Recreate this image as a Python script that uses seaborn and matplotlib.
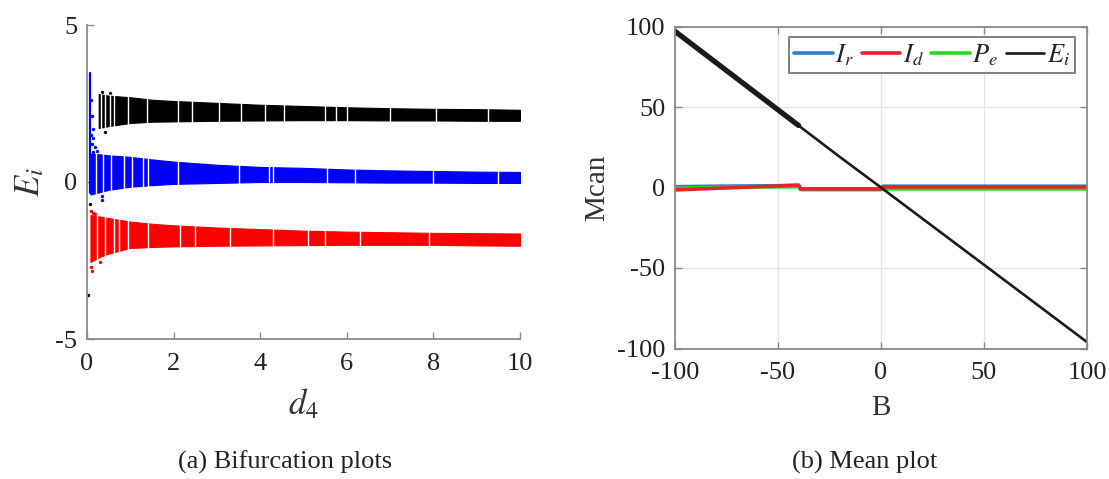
import numpy as np
import pandas as pd
import matplotlib
matplotlib.use("Agg")
import matplotlib.pyplot as plt
import seaborn as sns

# ---------------- (a) bifurcation bands: E_i envelopes over d4 ----------------
black_d4 = [0.27, 0.5, 1.0, 1.5, 2, 3, 4, 5, 6, 7, 8, 9, 10]
black_top = [2.80, 2.75, 2.70, 2.62, 2.58, 2.52, 2.46, 2.42, 2.38, 2.35, 2.33, 2.32, 2.30]
black_bot = [1.72, 1.78, 1.88, 1.92, 1.93, 1.95, 1.96, 1.97, 1.97, 1.96, 1.96, 1.95, 1.95]

blue_d4 = [0.08, 0.3, 0.5, 1.0, 1.5, 2, 3, 4, 5, 6, 7, 8, 9, 10]
blue_top = [0.90, 0.88, 0.85, 0.80, 0.72, 0.65, 0.55, 0.48, 0.45, 0.40, 0.37, 0.35, 0.33, 0.32]
blue_bot = [-0.40, -0.32, -0.25, -0.15, -0.10, -0.06, -0.03, 0.00, 0.00, -0.01, -0.02, -0.02, -0.03, -0.03]

red_d4 = [0.08, 0.3, 0.5, 1.0, 1.5, 2, 3, 4, 5, 6, 7, 8, 9, 10]
red_top = [-1.05, -1.10, -1.15, -1.26, -1.33, -1.38, -1.45, -1.50, -1.55, -1.58, -1.60, -1.62, -1.63, -1.64]
red_bot = [-2.55, -2.38, -2.28, -2.10, -2.07, -2.05, -2.03, -2.02, -2.01, -2.00, -2.00, -2.00, -2.02, -2.03]

# parameter values where the attractor thins out (white streaks in the bands)
black_gaps = [0.33, 0.42, 0.52, 0.62, 0.95, 1.38, 2.1, 2.42, 3.05, 3.55, 4.1, 4.55, 5.5, 5.75, 6.0, 7.0, 8.05, 9.25]
blue_gaps = [0.2, 0.38, 0.55, 0.85, 1.05, 1.3, 1.42, 2.1, 3.5, 4.2, 4.3, 5.55, 6.2, 8.0, 9.5]
red_gaps = [0.22, 0.42, 0.62, 0.75, 0.95, 1.4, 2.15, 2.5, 3.3, 4.3, 5.1, 5.5, 6.3, 7.9]

# transient spike of the blue branch near d4 = 0
blue_spike_d4 = [0.07, 0.07]
blue_spike_e = [-0.35, 3.47]

# isolated points outside the dense bands
stray_black_d4 = [0.34, 0.41, 0.53, 0.03, 0.07]
stray_black_e = [2.88, 1.60, 2.83, -3.60, -0.70]
stray_blue_d4 = [0.09, 0.11, 0.13, 0.15, 0.12, 0.18, 0.10, 0.14, 0.22, 0.34, 0.35]
stray_blue_e = [2.6, 2.1, 1.7, 1.4, 1.2, 1.1, 1.5, 0.95, 1.0, -0.57, -0.45]
stray_red_d4 = [0.10, 0.14, 0.18, 0.09, 0.11, 0.30]
stray_red_e = [-0.92, -0.98, -1.02, -2.70, -2.84, -2.55]

# ---------------- (b) mean values versus B ----------------
b_vals = [-100, -80, -60, -40, -39, -20, 0, 1, 50, 100]
mean_ir = [0.5, 0.8, 1.0, 1.2, -1.3, -1.3, -1.3, 0.8, 0.8, 0.8]
mean_id = [-1.5, -0.5, 0.5, 1.5, -0.9, -0.9, -0.9, 0.3, 0.3, 0.3]
mean_pe = [-0.5, 0.0, 0.3, 0.5, -0.8, -0.8, -0.8, -0.9, -0.9, -0.9]
mean_ei = [97, 77.5, 58, 38.5, 37.5, 19, 0, -1, -48, -96]

sns.set_theme(style="white")
plt.rcParams["font.family"] = ["Liberation Serif", "DejaVu Serif"]
plt.rcParams["mathtext.fontset"] = "stix"

spine_col = "#8a8a8a"
text_col = "#222222"
W, H = 1109, 479
fig = plt.figure(figsize=(W / 100, H / 100), dpi=100)
ax1 = fig.add_axes([87 / W, 1 - 339 / H, (520 - 87) / W, (339 - 25) / H])
ax2 = fig.add_axes([675 / W, 1 - 348.5 / H, (1087 - 675) / W, (348.5 - 26.5) / H])

# ---- panel (a)
bands = [
    (black_d4, black_top, black_bot, black_gaps, "#000000"),
    (blue_d4, blue_top, blue_bot, blue_gaps, "#0000ff"),
    (red_d4, red_top, red_bot, red_gaps, "#ff0000"),
]
for d4, top, bot, gaps, col in bands:
    ax1.fill_between(d4, bot, top, color=col, linewidth=0.8, edgecolor=col)
    lo = np.interp(gaps, d4, bot)
    hi = np.interp(gaps, d4, top)
    ax1.vlines(gaps, lo - 0.05, hi + 0.05, color="white", linewidth=1.0)

sns.lineplot(x=blue_spike_d4, y=blue_spike_e, ax=ax1, color="#0000ff", linewidth=1.6, estimator=None, sort=False)
sns.scatterplot(x=stray_black_d4, y=stray_black_e, ax=ax1, color="#000000", s=6, linewidth=0)
sns.scatterplot(x=stray_blue_d4, y=stray_blue_e, ax=ax1, color="#0000ff", s=6, linewidth=0)
sns.scatterplot(x=stray_red_d4, y=stray_red_e, ax=ax1, color="#ff0000", s=6, linewidth=0)

ax1.set_xlim(0, 10)
ax1.set_ylim(-5, 5)
ax1.set_xticks([0, 2, 4, 6, 8, 10])
ax1.set_yticks([-5, 0, 5])
ax1.set_xticklabels(["0", "2", "4", "6", "8", "10"])
ax1.set_yticklabels(["-5", "0", "5"])
for s in ["top", "right"]:
    ax1.spines[s].set_visible(False)
for s in ["left", "bottom"]:
    ax1.spines[s].set_color(spine_col)
    ax1.spines[s].set_linewidth(1.3)
ax1.tick_params(direction="in", length=5, width=1, color=spine_col, labelsize=19,
                bottom=True, left=True, labelcolor=text_col)
ax1.tick_params(axis="x", pad=10)
ax1.tick_params(axis="y", pad=7)
ax1.set_xlabel("$d_4$", fontsize=25, color="#333333")
ax1.set_ylabel("$E_i$", fontsize=25, color="#333333")
ax1.xaxis.set_label_coords(0.5, -0.21)
ax1.xaxis.label.set_va("center")
ax1.yaxis.set_label_coords(-0.13, 0.5)
ax1.yaxis.label.set_va("center")

# ---- panel (b)
ax2.grid(True, color="#e3e3e3", linewidth=0.9)
ax2.set_axisbelow(True)
sns.lineplot(x=b_vals, y=mean_ir, ax=ax2, color="#2e7ec8", linewidth=2.6, label="$I_r$", estimator=None, sort=False)
sns.lineplot(x=b_vals, y=mean_pe, ax=ax2, color="#22dd22", linewidth=2.6, label="$P_e$", estimator=None, sort=False)
sns.lineplot(x=b_vals, y=mean_id, ax=ax2, color="#e8232a", linewidth=2.6, label="$I_d$", estimator=None, sort=False)
sns.lineplot(x=b_vals, y=mean_ei, ax=ax2, color="#1a1a1a", linewidth=1.9, label="$E_i$", estimator=None, sort=False)
# spread of E_i is wider on the negative side of B
sns.lineplot(x=b_vals[:4], y=mean_ei[:4], ax=ax2, color="#1a1a1a", linewidth=3.8, estimator=None, sort=False)

ax2.set_xlim(-100, 100)
ax2.set_ylim(-100, 100)
ax2.set_xticks([-100, -50, 0, 50, 100])
ax2.set_yticks([-100, -50, 0, 50, 100])
ax2.set_xticklabels(["-100", "-50", "0", "50", "100"])
ax2.set_yticklabels(["-100", "-50", "0", "50", "100"])
for s in ax2.spines.values():
    s.set_color(spine_col)
    s.set_linewidth(1.3)
ax2.tick_params(direction="in", length=5, width=1, color=spine_col, labelsize=19,
                top=True, right=True, bottom=True, left=True, labelcolor=text_col)
ax2.tick_params(axis="x", pad=10)
ax2.tick_params(axis="y", pad=7)
ax2.set_xlabel("B", fontsize=21, color="#333333")
ax2.set_ylabel("Mcan", fontsize=21, color="#333333")
ax2.xaxis.set_label_coords(0.5, -0.185)
ax2.xaxis.label.set_va("center")
ax2.yaxis.set_label_coords(-0.19, 0.5)
ax2.yaxis.label.set_va("center")

handles, labels = ax2.get_legend_handles_labels()
order = ["$I_r$", "$I_d$", "$P_e$", "$E_i$"]
hmap = dict(zip(labels, handles))
leg = ax2.legend([hmap[k] for k in order], order, loc="upper right",
                 bbox_to_anchor=(0.971, 0.967), borderaxespad=0, ncol=4,
                 fontsize=19, handlelength=1.45, handletextpad=0.1, columnspacing=0.3,
                 borderpad=0.2, fancybox=False, framealpha=1, edgecolor="#777777")
leg.get_frame().set_linewidth(1.3)

# captions
fig.text(285 / W, 1 - 462 / H, "(a) Bifurcation plots", ha="center", va="center", fontsize=19, color=text_col)
fig.text(865 / W, 1 - 462 / H, "(b) Mean plot", ha="center", va="center", fontsize=19, color=text_col)

fig.savefig("out.png", dpi=100)
